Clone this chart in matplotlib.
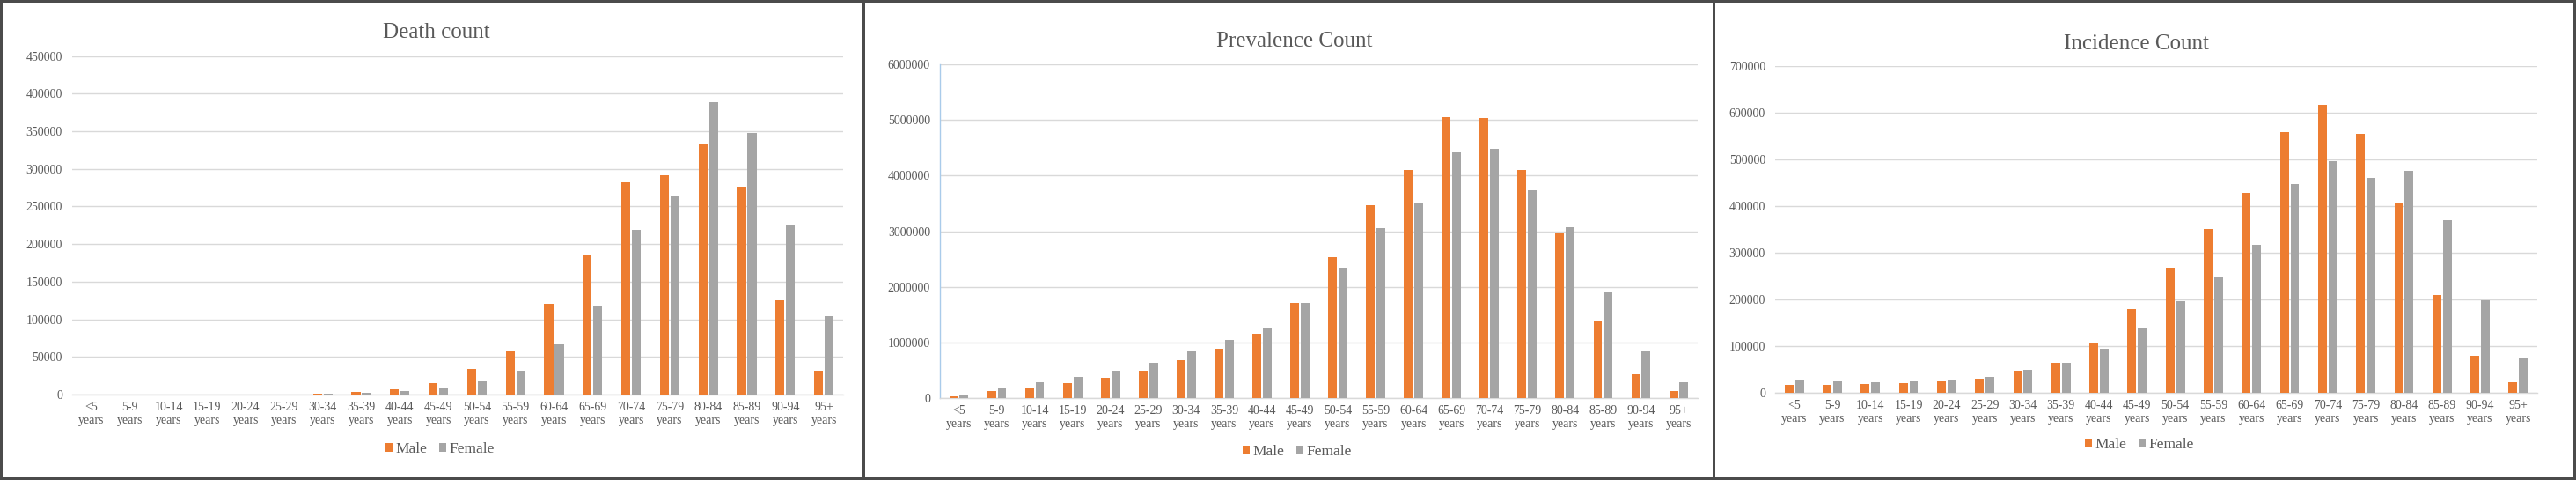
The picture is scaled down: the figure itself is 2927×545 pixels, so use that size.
import matplotlib
matplotlib.use("Agg")
import matplotlib.pyplot as plt
import numpy as np
from matplotlib.patches import Rectangle

age_groups = ["<5", "5-9", "10-14", "15-19", "20-24", "25-29", "30-34", "35-39",
              "40-44", "45-49", "50-54", "55-59", "60-64", "65-69", "70-74",
              "75-79", "80-84", "85-89", "90-94", "95+"]

death_male = [100, 30, 40, 80, 150, 300, 1600, 4000, 7300, 15400, 34500, 57700,
              120000, 185400, 282000, 291500, 333700, 276400, 125600, 32100]
death_female = [80, 20, 30, 50, 100, 200, 1200, 2800, 4500, 8500, 17900, 32100,
                67000, 117500, 219000, 264600, 388600, 348000, 226000, 104500]

prev_male = [38500, 121000, 193000, 270000, 369000, 495000, 677000, 892000,
             1156000, 1717000, 2532000, 3462000, 4095000, 5047000, 5030000,
             4095000, 2972000, 1370000, 429000, 121000]
prev_female = [55000, 176000, 286000, 385000, 495000, 633000, 859000, 1040000,
               1266000, 1717000, 2345000, 3055000, 3511000, 4419000, 4486000,
               3743000, 3071000, 1893000, 837000, 286000]

inc_male = [16400, 16400, 18400, 19700, 23600, 28900, 45900, 63600, 107000,
            178500, 266400, 350400, 427800, 557700, 616100, 554500, 406200,
            208000, 78100, 21700]
inc_female = [25600, 23600, 21700, 23600, 27600, 33500, 47900, 63600, 93200,
              139100, 194900, 247400, 316300, 446200, 494800, 460600, 475100,
              368800, 196900, 72800]

W, H = 2927, 545
ORANGE = "#ED7D31"
GRAY = "#A5A5A5"
TXT = "#595959"
GRID = "#D9D9D9"

plt.rcParams['font.family'] = ['Liberation Serif', 'DejaVu Serif']

fig = plt.figure(figsize=(W / 100, H / 100), dpi=100)
fig.patch.set_facecolor("#4b4b4b")

# white chart frames (pixel boxes)
for x0, x1 in [(3, 980), (983, 1946), (1949, 2924)]:
    fig.patches.append(Rectangle((x0 / W, 3 / H), (x1 - x0) / W, (542 - 3) / H,
                                 transform=fig.transFigure, facecolor="white",
                                 edgecolor="none", zorder=-10))


def px_axes(x0, x1, ytop, ybot):
    return fig.add_axes([x0 / W, 1 - ybot / H, (x1 - x0) / W, (ybot - ytop) / H])


def draw(ax, male, female, ymax, step, title, tx, tbase, lx, ly, blue_axis=False):
    x = np.arange(len(age_groups))
    ax.bar(x - 0.137, male, width=0.23, color=ORANGE, label="Male", zorder=3)
    ax.bar(x + 0.137, female, width=0.23, color=GRAY, label="Female", zorder=3)
    ax.set_xlim(-0.5, len(age_groups) - 0.5)
    ax.set_ylim(0, ymax)
    ax.set_yticks(np.arange(0, ymax + 1, step))
    ax.set_yticklabels(["%d" % v for v in np.arange(0, ymax + 1, step)])
    ax.set_xticks(x)
    ax.set_xticklabels([g + "\nyears" for g in age_groups])
    ax.tick_params(axis="both", length=0, colors=TXT, labelsize=10)
    ax.tick_params(axis="y", pad=8)
    ax.tick_params(axis="x", pad=6)
    ax.grid(axis="y", color=GRID, linewidth=1.0, zorder=0)
    ax.set_axisbelow(True)
    for s in ["top", "right", "left"]:
        ax.spines[s].set_visible(False)
    ax.spines["bottom"].set_color(GRID)
    ax.spines["bottom"].set_linewidth(1.0)
    if blue_axis:
        ax.spines["left"].set_visible(True)
        ax.spines["left"].set_color("#A9CBEA")
        ax.spines["left"].set_linewidth(1.0)
    ax.set_facecolor("none")
    fig.text(tx / W, 1 - tbase / H, title, ha="center", va="baseline",
             fontsize=18, color=TXT)
    ax.legend(loc="center", bbox_to_anchor=(lx / W, 1 - ly / H),
              bbox_transform=fig.transFigure, ncol=2, frameon=False,
              fontsize=12.5, handlelength=0.5, handleheight=0.5,
              handletextpad=0.2, columnspacing=0.75, labelcolor=TXT)


ax1 = px_axes(82, 958, 63.6, 448)
draw(ax1, death_male, death_female, 450000, 50000, "Death count",
     496, 43.4, 500, 510)

ax2 = px_axes(1068, 1929, 73, 452)
draw(ax2, prev_male, prev_female, 6000000, 1000000, "Prevalence Count",
     1471, 52.8, 1474, 513, blue_axis=True)

ax3 = px_axes(2017, 2883, 74.7, 445.6)
draw(ax3, inc_male, inc_female, 700000, 100000, "Incidence Count",
     2427, 55.6, 2431, 505)

fig.savefig("out.png", dpi=100, facecolor=fig.get_facecolor())
